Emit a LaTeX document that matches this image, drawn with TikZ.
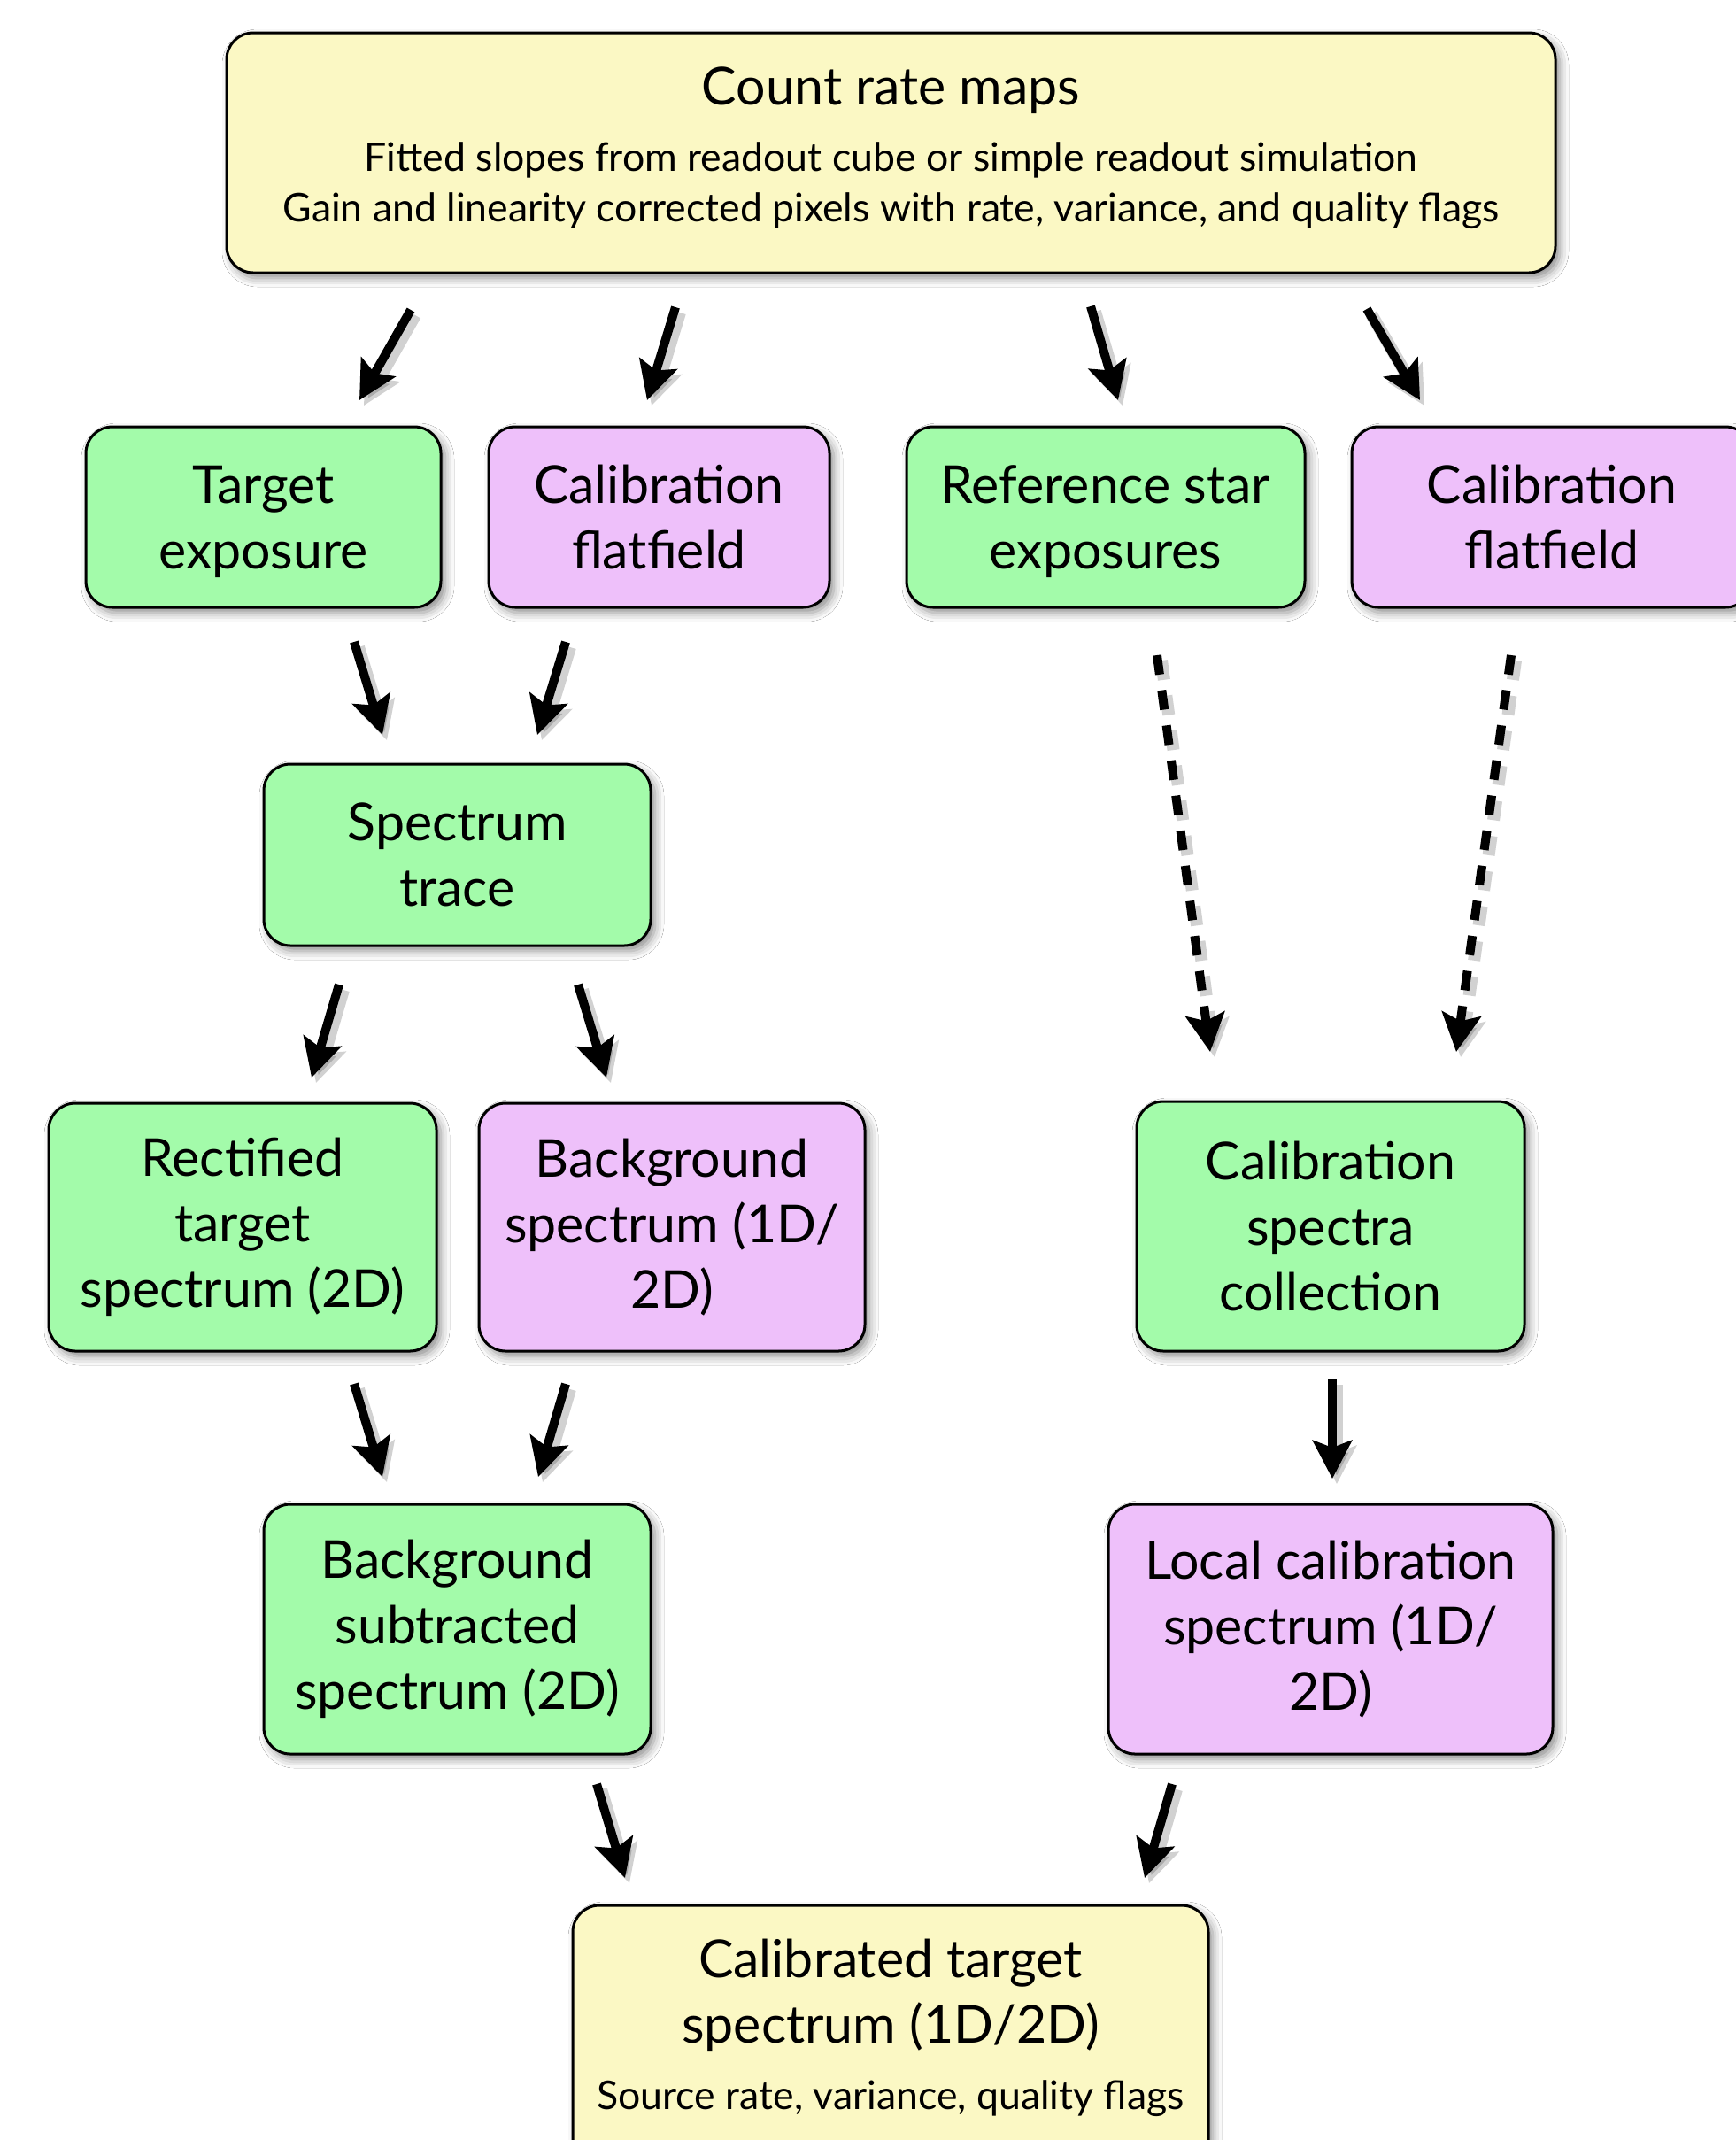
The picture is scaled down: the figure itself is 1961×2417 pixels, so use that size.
\documentclass[tikz,border=0pt]{standalone}
\usepackage{fontspec}
\setmainfont{Lato}
\usetikzlibrary{arrows.meta,shadows.blur}
\definecolor{gfill}{RGB}{163,251,170}
\definecolor{pfill}{RGB}{238,192,250}
\definecolor{yfill}{RGB}{251,248,196}
\newcommand\mainfs{\fontsize{29.5}{37}\selectfont}
\newcommand\subfs{\fontsize{22.3}{28.5}\selectfont}
\begin{document}
\begin{tikzpicture}[x=0.5pt,y=-0.5pt,
  box/.style={draw=black, line width=1.5pt, rounded corners=15pt, align=center,
    inner sep=0pt, font=\mainfs,
    blur shadow={shadow xshift=2.5pt, shadow yshift=-3pt, shadow blur radius=5pt, shadow opacity=45}},
  gbox/.style={box, fill=gfill},
  pbox/.style={box, fill=pfill},
  ybox/.style={box, fill=yfill},
  rowtwo/.style={text depth=-2pt},
  arrtip/.style={-{Stealth[length=21.5pt,width=22pt,inset=4pt]}},
  arr/.style={line width=5pt, arrtip,
    preaction={draw=black, opacity=0.18, line width=7pt, transform canvas={shift={(2.5pt,-3pt)}}}},
  darr/.style={line width=5pt, arrtip, dash pattern=on 11pt off 9pt,
    preaction={draw=black, opacity=0.18, line width=7pt, dash pattern=on 11pt off 9pt,
      transform canvas={shift={(2.5pt,-3pt)}}}},
  txt/.style={inner sep=0pt, anchor=base},
]
\useasboundingbox (0,0) rectangle (1961,2417);
\fill[white] (0,0) rectangle (1961,2417);

% boxes
\node[ybox, minimum width=750.5pt, minimum height=135.5pt] (top) at (1006.5,172.5) {};
\node[txt, font=\mainfs] (topT) at (1006.5,118) {Count rate maps};
\node[txt, font=\subfs] (topS1) at (1006.5,193) {Fitted slopes from readout cube or simple readout simulation};
\node[txt, font=\subfs] (topS2) at (1006.5,250) {Gain and linearity corrected pixels with rate, variance, and quality flags};

\node[gbox, rowtwo, minimum width=200.5pt, minimum height=102pt] (te) at (297.5,584) {Target\\exposure};
\node[pbox, rowtwo, minimum width=192.5pt, minimum height=102pt] (cf1) at (744.5,584) {Calibration\\flatfield};
\node[gbox, rowtwo, minimum width=225pt, minimum height=102pt] (rs) at (1249,584) {Reference star\\exposures};
\node[pbox, rowtwo, minimum width=226pt, minimum height=102pt] (cf2) at (1753,584) {Calibration\\flatfield};

\node[gbox, minimum width=218.5pt, minimum height=102.5pt] (st) at (516.5,965.5) {Spectrum\\trace};

\node[gbox, minimum width=219pt, minimum height=140pt] (rt) at (274,1386) {Rectified\\target\\spectrum (2D)};
\node[pbox, minimum width=218pt, minimum height=140pt] (bs) at (759,1386) {Background\\spectrum (1D/\\2D)};
\node[gbox, minimum width=219pt, minimum height=141pt] (cs) at (1503,1385) {Calibration\\spectra\\collection};

\node[gbox, minimum width=218.5pt, minimum height=141pt] (bss) at (516.5,1840) {Background\\subtracted\\spectrum (2D)};
\node[pbox, minimum width=251pt, minimum height=141pt] (lc) at (1503,1840) {Local calibration\\spectrum (1D/\\2D)};

\node[ybox, minimum width=359pt, minimum height=150pt] (out) at (1006,2302) {};
\node[txt, font=\mainfs] (outT1) at (1006,2233) {Calibrated target};
\node[txt, font=\mainfs] (outT2) at (1006,2307) {spectrum (1D/2D)};
\node[txt, font=\subfs] (outS) at (1006,2382) {Source rate, variance, quality flags};

% arrow end points
\coordinate (a1s) at (464,350);  \coordinate (a1e) at (406,452);
\coordinate (a2s) at (763,347);  \coordinate (a2e) at (731,452);
\coordinate (a3s) at (1232,346); \coordinate (a3e) at (1263,452);
\coordinate (a4s) at (1544,349); \coordinate (a4e) at (1604,452);
\coordinate (a5s) at (400,725);  \coordinate (a5e) at (432,830);
\coordinate (a6s) at (639,725);  \coordinate (a6e) at (607,830);
\coordinate (a7s) at (383,1112); \coordinate (a7e) at (352,1217);
\coordinate (a8s) at (653,1112); \coordinate (a8e) at (685,1217);
\coordinate (d1s) at (1307,740); \coordinate (d1e) at (1367,1188);
\coordinate (d2s) at (1707,740); \coordinate (d2e) at (1645,1188);
\coordinate (a9s) at (400,1563); \coordinate (a9e) at (432,1668);
\coordinate (a10s) at (639,1563); \coordinate (a10e) at (608,1668);
\coordinate (a11s) at (1505,1558); \coordinate (a11e) at (1505,1670);
\coordinate (a12s) at (674,2015); \coordinate (a12e) at (706,2121);
\coordinate (a13s) at (1324,2015); \coordinate (a13e) at (1293,2121);

\draw[arr] (a1s) -- (a1e);
\draw[arr] (a2s) -- (a2e);
\draw[arr] (a3s) -- (a3e);
\draw[arr] (a4s) -- (a4e);
\draw[arr] (a5s) -- (a5e);
\draw[arr] (a6s) -- (a6e);
\draw[arr] (a7s) -- (a7e);
\draw[arr] (a8s) -- (a8e);
\draw[darr] (d1s) -- (d1e);
\draw[darr] (d2s) -- (d2e);
\draw[arr] (a9s) -- (a9e);
\draw[arr] (a10s) -- (a10e);
\draw[arr] (a11s) -- (a11e);
\draw[arr] (a12s) -- (a12e);
\draw[arr] (a13s) -- (a13e);
\end{tikzpicture}
\end{document}
